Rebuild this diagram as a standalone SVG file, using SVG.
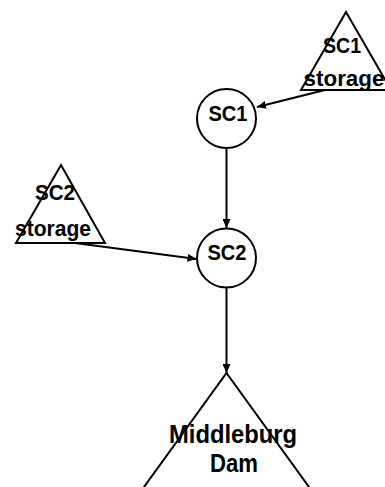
<svg xmlns="http://www.w3.org/2000/svg" width="385" height="487" viewBox="0 0 385 487">
<defs>
<style>
.shape{fill:#ffffff;stroke:#000000;stroke-width:2}
.lbl{font-family:"Liberation Sans",Arial,sans-serif;font-weight:bold;font-size:22.5px;fill:#000000;text-anchor:middle}
.big{font-size:25px}
.conn{stroke:#000000;stroke-width:2;fill:none;marker-end:url(#arr)}
</style>
<marker id="arr" viewBox="0 0 10 10" refX="10" refY="5" markerWidth="4.5" markerHeight="4" orient="auto" markerUnits="strokeWidth" preserveAspectRatio="none">
<path d="M0,0 L10,5 L0,10 z" fill="#000000"/>
</marker>
</defs>
<rect width="385" height="487" fill="#ffffff"/>
<g id="connectors">
<line class="conn" x1="325" y1="90" x2="257" y2="107"/>
<line class="conn" x1="226.5" y1="148" x2="226.5" y2="228"/>
<line class="conn" x1="75" y1="243" x2="196.5" y2="259"/>
<line class="conn" x1="226.5" y1="288" x2="226.5" y2="373"/>
</g>
<g id="sc1_storage">
<polygon class="shape" points="346,12 391,90 301,90"/>
<text class="lbl" x="342" y="53" textLength="38" lengthAdjust="spacingAndGlyphs">SC1</text>
<text class="lbl" x="344" y="86" textLength="81" lengthAdjust="spacingAndGlyphs">storage</text>
</g>
<g id="sc1">
<circle class="shape" cx="226.5" cy="118.5" r="29.5"/>
<text class="lbl" x="228" y="120.5" textLength="39" lengthAdjust="spacingAndGlyphs">SC1</text>
</g>
<g id="sc2_storage">
<polygon class="shape" points="61,165 105,243 16,243"/>
<text class="lbl" x="55" y="199.5" textLength="40" lengthAdjust="spacingAndGlyphs">SC2</text>
<text class="lbl" x="53" y="236" textLength="76" lengthAdjust="spacingAndGlyphs">storage</text>
</g>
<g id="sc2">
<circle class="shape" cx="226.5" cy="258" r="29.5"/>
<text class="lbl" x="227" y="259.5" textLength="39" lengthAdjust="spacingAndGlyphs">SC2</text>
</g>
<g id="middleburg_dam">
<polygon class="shape" points="226.5,373 330,516 123,516" style="fill:none"/>
<text class="lbl big" x="233" y="443" textLength="128" lengthAdjust="spacingAndGlyphs">Middleburg</text>
<text class="lbl big" x="234" y="472" textLength="48" lengthAdjust="spacingAndGlyphs">Dam</text>
</g>
</svg>
